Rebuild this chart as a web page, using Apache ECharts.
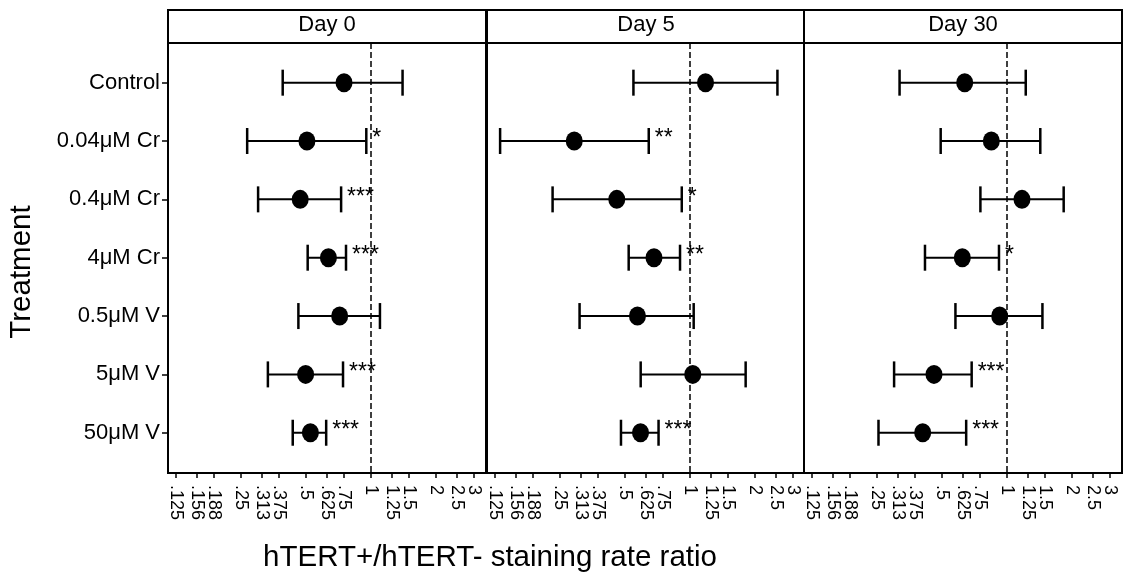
<!DOCTYPE html>
<html>
<head>
<meta charset="utf-8">
<script src="https://cdn.jsdelivr.net/npm/echarts@6/dist/echarts.min.js"></script>
<style>
html,body{margin:0;padding:0;background:#fff;}
#c{width:1123px;height:574px;}
</style>
</head>
<body>
<div id="c"></div>
<script>
// ---- data ----
const categories = ['Control', '0.04μM Cr', '0.4μM Cr', '4μM Cr', '0.5μM V', '5μM V', '50μM V'];
const panels = ['Day 0', 'Day 5', 'Day 30'];
const tickValues = [0.125, 0.15625, 0.1875, 0.25, 0.3125, 0.375, 0.5, 0.625, 0.75, 1, 1.25, 1.5, 2, 2.5, 3];
const tickLabels = ['.125', '.156', '.188', '.25', '.313', '.375', '.5', '.625', '.75', '1', '1.25', '1.5', '2', '2.5', '3'];

const day0Est = [0.75, 0.505, 0.47, 0.635, 0.716, 0.498, 0.524];
const day0Lo  = [0.39, 0.267, 0.30, 0.509, 0.461, 0.333, 0.434];
const day0Hi  = [1.40, 0.951, 0.727, 0.766, 1.10, 0.742, 0.620];
const day0Sig = ['', '*', '***', '***', '', '***', '***'];

const day5Est = [1.18, 0.291, 0.458, 0.681, 0.571, 1.03, 0.59];
const day5Lo  = [0.547, 0.132, 0.231, 0.520, 0.308, 0.591, 0.479];
const day5Hi  = [2.54, 0.644, 0.916, 0.899, 1.04, 1.81, 0.715];
const day5Sig = ['', '**', '*', '**', '', '', '***'];

const day30Est = [0.637, 0.846, 1.173, 0.621, 0.925, 0.459, 0.407];
const day30Lo  = [0.318, 0.493, 0.753, 0.417, 0.577, 0.300, 0.254];
const day30Hi  = [1.221, 1.426, 1.83, 0.918, 1.459, 0.686, 0.647];
const day30Sig = ['', '', '', '*', '', '***', '***'];

const estAll = [day0Est, day5Est, day30Est];
const loAll = [day0Lo, day5Lo, day30Lo];
const hiAll = [day0Hi, day5Hi, day30Hi];
const sigAll = [day0Sig, day5Sig, day30Sig];

// ---- layout ----
const FONT = '"Liberation Sans", Arial, sans-serif';
const gridLeft = [168, 487, 804];
const gridW = 318;
const gridTop = 43;
const gridH = 430;
const xMin = -3.123, xMax = 1.769; // log2 space
const yMin = -0.68, yMax = 6.69;

const L2 = v => Math.log2(v);
const tickLog = tickValues.map(L2);
const tickEven = tickLog.filter((v, i) => i % 2 === 0);
const tickOdd = tickLog.filter((v, i) => i % 2 === 1);
const labelFmt = v => {
  let best = 0, bd = 1e9;
  tickLog.forEach((t, i) => { const d = Math.abs(t - v); if (d < bd) { bd = d; best = i; } });
  return tickLabels[best];
};

const grids = [], xAxes = [], yAxes = [], series = [], graphics = [];

for (let p = 0; p < 3; p++) {
  grids.push({left: gridLeft[p], top: gridTop, width: gridW, height: gridH,
    show: true, borderColor: '#000', borderWidth: 2, backgroundColor: '#fff'});
  [tickEven, tickOdd].forEach((vals, k) => {
    xAxes.push({
      type: 'value', gridIndex: p, min: xMin, max: xMax, position: 'bottom', offset: 0,
      axisLine: {show: k === 0, onZero: false, lineStyle: {color: '#000', width: 2}},
      axisTick: {show: true, customValues: vals, length: 5, lineStyle: {color: '#000', width: 1.5}},
      axisLabel: {show: true, customValues: vals, rotate: -90, margin: 12,
        showMinLabel: true, showMaxLabel: true, hideOverlap: false,
        fontFamily: FONT, fontSize: 18, lineHeight: 14, color: '#000',
        formatter: labelFmt},
      splitLine: {show: false}
    });
  });
  yAxes.push({
    type: 'value', gridIndex: p, inverse: true, min: yMin, max: yMax,
    axisLine: {show: p === 0, onZero: false, lineStyle: {color: '#000', width: 2}},
    axisTick: {show: p === 0, customValues: [0,1,2,3,4,5,6], length: 6, lineStyle: {color: '#000', width: 1.5}},
    axisLabel: {show: p === 0, customValues: [0,1,2,3,4,5,6], margin: 8,
      showMinLabel: true, showMaxLabel: true,
      fontFamily: FONT, fontSize: 22, color: '#000',
      formatter: v => categories[Math.round(v)] || ''},
    splitLine: {show: false}
  });

  const xi = p * 2;
  const est = estAll[p], lo = loAll[p], hi = hiAll[p], sig = sigAll[p];
  series.push({
    type: 'custom', xAxisIndex: xi, yAxisIndex: p, silent: true,
    encode: {x: [1, 2], y: 0},
    data: categories.map((c, i) => [i, L2(lo[i]), L2(hi[i])]),
    renderItem: (params, api) => {
      const r = api.value(0);
      const a = api.coord([api.value(1), r]);
      const b = api.coord([api.value(2), r]);
      const h = 13;
      const s = sig[params.dataIndex];
      const children = [
        {type: 'line', shape: {x1: a[0], y1: a[1], x2: b[0], y2: b[1]}, style: {stroke: '#000', lineWidth: 2}},
        {type: 'line', shape: {x1: a[0], y1: a[1] - h, x2: a[0], y2: a[1] + h}, style: {stroke: '#000', lineWidth: 2.5}},
        {type: 'line', shape: {x1: b[0], y1: b[1] - h, x2: b[0], y2: b[1] + h}, style: {stroke: '#000', lineWidth: 2.5}}
      ];
      if (s) children.push({type: 'text', style: {text: s, x: b[0] + 6, y: b[1] - 2,
        fontFamily: FONT, fontSize: 23, fill: '#000', align: 'left', verticalAlign: 'middle'}});
      return {type: 'group', children};
    },
    z: 3
  });
  series.push({
    type: 'scatter', xAxisIndex: xi, yAxisIndex: p, silent: true,
    symbol: 'circle', symbolSize: [17, 19],
    itemStyle: {color: '#000', opacity: 1},
    data: categories.map((c, i) => [L2(est[i]), i]),
    markLine: {silent: true, symbol: ['none', 'none'], label: {show: false},
      lineStyle: {type: [6, 3], color: '#000', width: 1.5},
      data: [{xAxis: 0}]},
    z: 4
  });

  graphics.push({type: 'rect', shape: {x: gridLeft[p], y: 10, width: gridW, height: 33},
    style: {fill: '#fff', stroke: '#000', lineWidth: 2}, z: 10});
  graphics.push({type: 'text', x: gridLeft[p] + gridW / 2, y: 25,
    style: {text: panels[p], fontFamily: FONT, fontSize: 22, fill: '#000', align: 'center', verticalAlign: 'middle'}, z: 11});
}

graphics.push({type: 'text', x: 490, y: 558,
  style: {text: 'hTERT+/hTERT- staining rate ratio', fontFamily: FONT, fontSize: 29.5, fill: '#000',
    align: 'center', verticalAlign: 'middle'}});
graphics.push({type: 'text', x: 22, y: 272, rotation: Math.PI / 2,
  style: {text: 'Treatment', fontFamily: FONT, fontSize: 29.5, fill: '#000',
    align: 'center', verticalAlign: 'middle'}});

const chart = echarts.init(document.getElementById('c'), null, {renderer: 'canvas'});
chart.setOption({
  animation: false,
  backgroundColor: '#fff',
  grid: grids, xAxis: xAxes, yAxis: yAxes, series: series, graphic: graphics
});
</script>
</body>
</html>
